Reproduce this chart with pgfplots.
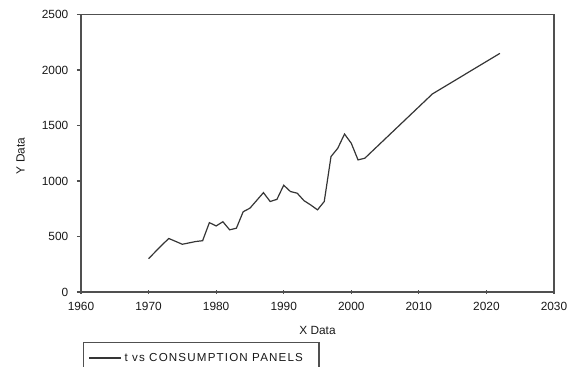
\documentclass[border=0pt]{standalone}
\usepackage{fontspec}
\setmainfont{Liberation Sans}
\newfontfamily\legfont[LetterSpace=10]{Liberation Sans}
\usepackage{pgfplots}
\pgfplotsset{compat=1.18}
\definecolor{axisgray}{HTML}{505050}
\definecolor{linegray}{HTML}{353535}
\begin{document}
\begin{tikzpicture}
\path[use as bounding box] (-60.75pt,-56.25pt) rectangle (371.25pt,219pt);
\begin{axis}[
  scale only axis,
  width=354.75pt, height=208.125pt,
  xmin=1960, xmax=2030, ymin=0, ymax=2500,
  xtick distance=10, ytick distance=500,
  xtick pos=bottom, ytick pos=left,
  xtick align=center, ytick align=outside,
  major tick length=3pt,
  axis line style={draw=axisgray, line width=0.9pt},
  every tick/.style={draw=axisgray, line width=0.8pt},
  /pgf/number format/assume math mode=true,
  /pgf/number format/set thousands separator={},
  tick label style={font=\fontsize{8.9}{10}\selectfont, text=black!90},
  xticklabel style={yshift=-3pt},
  yticklabel style={xshift=-3pt},
  xlabel={X Data}, ylabel={Y Data},
  label style={font=\fontsize{8.9}{10}\selectfont, text=black!90},
  xlabel style={at={(axis description cs:0.5,-0.1395)}, anchor=center},
  ylabel style={at={(axis description cs:-0.1275,0.49)}, anchor=center, rotate=0},
  legend style={at={(axis description cs:0.0036,-0.179)}, anchor=north west,
    draw=axisgray, line width=0.9pt, font=\legfont\fontsize{8.7}{10}\selectfont,
    inner xsep=4pt, inner ysep=6pt, text=black!90},
  legend cell align=left,
  legend image code/.code={\draw[#1, line width=0.9pt] (0pt,0pt) -- (18.75pt,0pt);
    \path (0pt,0pt) -- (24pt,0pt);},
]
\addplot[linegray, line width=0.9pt] coordinates {
(1970,300) (1972,425) (1973,482) (1975,430) (1977,455) (1978,462)
(1979,625) (1980,595) (1981,633) (1982,560) (1983,575) (1984,723)
(1985,755) (1987,895) (1988,815) (1989,835) (1990,962) (1991,905)
(1992,890) (1993,823) (1994,784) (1995,740) (1996,815) (1997,1220)
(1998,1295) (1999,1423) (2000,1340) (2001,1190) (2002,1205)
(2012,1784) (2022,2150)
};
\addlegendentry{t vs CONSUMPTION PANELS\hspace*{6pt}}
\end{axis}
\end{tikzpicture}
\end{document}
